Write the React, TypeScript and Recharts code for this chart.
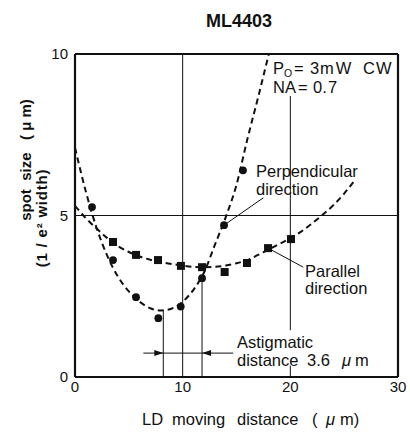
import React from "react";
import {
  ComposedChart,
  Line,
  Scatter,
  XAxis,
  YAxis,
  ReferenceLine,
} from "recharts";

// measured spot sizes (um) vs LD moving distance (um)
const perpPoints = [
  { x: 1.58, y: 5.26 },
  { x: 3.53, y: 3.62 },
  { x: 5.67, y: 2.47 },
  { x: 7.74, y: 1.82 },
  { x: 9.82, y: 2.18 },
  { x: 11.8, y: 3.06 },
  { x: 13.84, y: 4.7 },
  { x: 15.6, y: 6.4 },
];

const paraPoints = [
  { x: 3.53, y: 4.18 },
  { x: 5.67, y: 3.78 },
  { x: 7.71, y: 3.62 },
  { x: 9.84, y: 3.44 },
  { x: 11.8, y: 3.4 },
  { x: 13.9, y: 3.25 },
  { x: 15.97, y: 3.53 },
  { x: 17.93, y: 3.99 },
  { x: 20.06, y: 4.27 },
];

// dashed fitted curves
const perpCurve = [
  { x: 0, y: 7.1 }, { x: 1, y: 5.75 }, { x: 2, y: 4.62 }, { x: 3, y: 3.75 },
  { x: 4, y: 3.1 }, { x: 5, y: 2.65 }, { x: 6, y: 2.33 }, { x: 7, y: 2.13 },
  { x: 8, y: 2.06 }, { x: 9, y: 2.12 }, { x: 10, y: 2.33 }, { x: 11, y: 2.7 },
  { x: 12, y: 3.25 }, { x: 13, y: 4.1 }, { x: 14, y: 4.95 }, { x: 15, y: 5.95 },
  { x: 16, y: 7.35 }, { x: 17, y: 8.65 }, { x: 18, y: 10 },
];

const paraCurve = [
  { x: 0, y: 5.3 }, { x: 1, y: 4.92 }, { x: 2, y: 4.6 }, { x: 3, y: 4.3 },
  { x: 4, y: 4.05 }, { x: 5, y: 3.87 }, { x: 6, y: 3.73 }, { x: 7, y: 3.63 },
  { x: 8, y: 3.55 }, { x: 9, y: 3.5 }, { x: 10, y: 3.45 }, { x: 11, y: 3.41 },
  { x: 12, y: 3.4 }, { x: 13, y: 3.41 }, { x: 14, y: 3.45 }, { x: 15, y: 3.52 },
  { x: 16, y: 3.62 }, { x: 17, y: 3.78 }, { x: 18, y: 3.95 }, { x: 19, y: 4.12 },
  { x: 20, y: 4.3 }, { x: 21, y: 4.5 }, { x: 22, y: 4.75 }, { x: 23, y: 5.02 },
  { x: 24, y: 5.32 }, { x: 25, y: 5.68 }, { x: 26, y: 6.1 },
];

// astigmatic distance markers
const waistPerp = 8.2;
const waistPara = 11.8;
const arrowY = 0.74;
const arrowHeads = [
  { x: waistPerp, y: arrowY, dir: 1 },
  { x: waistPara, y: arrowY, dir: -1 },
];

const xTicks = [0, 10, 20, 30];
const yTicks = [0, 5, 10];

const INK = "#111";
const FONT = "'Liberation Sans', Arial, Helvetica, sans-serif";
const pre = { whiteSpace: "pre" as const };

const Dot = (p: any) => <circle cx={p.cx} cy={p.cy} r={3.9} fill={INK} />;
const Square = (p: any) => (
  <rect x={p.cx - 4} y={p.cy - 4} width={8} height={8} fill={INK} />
);
const Arrow = (p: any) => {
  const d = p.payload.dir;
  return (
    <path
      d={`M${p.cx},${p.cy} L${p.cx - d * 9},${p.cy - 3} L${p.cx - d * 9},${p.cy + 3} Z`}
      fill={INK}
    />
  );
};

export default function App() {
  return (
    <div style={{ position: "absolute", left: 0, top: 0, background: "#fff" }}>
      <ComposedChart
        width={410}
        height={435}
        margin={{ top: 54, right: 12, bottom: 28, left: 0 }}
        style={{ fontFamily: FONT }}
      >
        <XAxis
          type="number"
          dataKey="x"
          domain={[0, 30]}
          ticks={xTicks}
          allowDataOverflow
          axisLine={false}
          tickLine={false}
          tickSize={0}
          tickMargin={4}
          height={30}
          tick={{ fontSize: 15, fill: INK }}
        />
        <YAxis
          type="number"
          dataKey="y"
          domain={[0, 10]}
          ticks={yTicks}
          allowDataOverflow
          axisLine={false}
          tickLine={false}
          tickSize={0}
          tickMargin={7}
          width={75}
          tick={{ fontSize: 15, fill: INK }}
        />

        <ReferenceLine y={5} stroke={INK} strokeWidth={1} />
        <ReferenceLine x={10} stroke={INK} strokeWidth={1} />
        <ReferenceLine segment={[{ x: 20, y: 8.7 }, { x: 20, y: 1.45 }]} stroke={INK} strokeWidth={1} />
        <ReferenceLine segment={[{ x: 20, y: 0.35 }, { x: 20, y: 0 }]} stroke={INK} strokeWidth={1} />
        <ReferenceLine segment={[{ x: waistPerp, y: 0 }, { x: waistPerp, y: 2.06 }]} stroke={INK} strokeWidth={1} />
        <ReferenceLine segment={[{ x: waistPara, y: 0 }, { x: waistPara, y: 3.06 }]} stroke={INK} strokeWidth={1} />
        <ReferenceLine segment={[{ x: 6.35, y: arrowY }, { x: 14.7, y: arrowY }]} stroke={INK} strokeWidth={1} />
        <ReferenceLine segment={[{ x: 13.84, y: 4.7 }, { x: 17.5, y: 5.55 }]} stroke={INK} strokeWidth={1} />
        <ReferenceLine segment={[{ x: 17.93, y: 3.99 }, { x: 21.2, y: 3.4 }]} stroke={INK} strokeWidth={1} />

        <ReferenceLine x={0} stroke={INK} strokeWidth={2.2} />
        <ReferenceLine x={30} stroke={INK} strokeWidth={2.2} />
        <ReferenceLine y={0} stroke={INK} strokeWidth={2.2} />
        <ReferenceLine y={10} stroke={INK} strokeWidth={2.2} />

        <Line
          data={perpCurve}
          dataKey="y"
          type="monotone"
          stroke={INK}
          strokeWidth={2}
          strokeDasharray="6 4"
          dot={false}
          activeDot={false}
          isAnimationActive={false}
        />
        <Line
          data={paraCurve}
          dataKey="y"
          type="monotone"
          stroke={INK}
          strokeWidth={2}
          strokeDasharray="6 4"
          dot={false}
          activeDot={false}
          isAnimationActive={false}
        />
        <Scatter data={perpPoints} dataKey="y" shape={Dot} isAnimationActive={false} />
        <Scatter data={paraPoints} dataKey="y" shape={Square} isAnimationActive={false} />
        <Scatter data={arrowHeads} dataKey="y" shape={Arrow} isAnimationActive={false} />

        {/* annotations */}
        <text x={206} y={27} fontSize={18} fontWeight="bold" fill={INK} fontFamily={FONT}>
          ML4403
        </text>
        <text y={74} fontSize={16.5} fill={INK} fontFamily={FONT}>
          <tspan x={273}>P</tspan>
          <tspan fontSize={10.5} dy={3}>O</tspan>
          <tspan x={294} dy={-3}>=</tspan>
          <tspan x={310}>3</tspan>
          <tspan x={320} letterSpacing={2}>mW</tspan>
          <tspan x={363} letterSpacing={1}>CW</tspan>
        </text>
        <text y={93} fontSize={16.5} fill={INK} fontFamily={FONT}>
          <tspan x={273}>NA</tspan>
          <tspan x={298}>=</tspan>
          <tspan x={313}>0.</tspan>
          <tspan x={328}>7</tspan>
        </text>
        <text x={256} y={177} fontSize={16.5} fill={INK} fontFamily={FONT}>
          Perpendicular
        </text>
        <text x={256} y={195} fontSize={16.5} fill={INK} fontFamily={FONT}>
          direction
        </text>
        <text x={305} y={277} fontSize={16.5} fill={INK} fontFamily={FONT}>
          Parallel
        </text>
        <text x={305} y={294} fontSize={16.5} fill={INK} fontFamily={FONT}>
          direction
        </text>
        <text x={237} y={348} fontSize={16.5} fill={INK} fontFamily={FONT}>
          Astigmatic
        </text>
        <text y={366} fontSize={16.5} fill={INK} fontFamily={FONT}>
          <tspan x={237}>distance</tspan>
          <tspan x={307}>3.6</tspan>
          <tspan x={342} fontStyle="italic">μ</tspan>
          <tspan x={355}>m</tspan>
        </text>
        <text y={425} fontSize={16.5} fill={INK} fontFamily={FONT}>
          <tspan x={142}>LD</tspan>
          <tspan x={172}>moving</tspan>
          <tspan x={237}>distance</tspan>
          <tspan x={312}>(</tspan>
          <tspan x={326} fontStyle="italic">μ</tspan>
          <tspan x={340}>m)</tspan>
        </text>
        <text
          x={25}
          y={160}
          fontSize={15}
          fontWeight="bold"
          textAnchor="middle"
          dominantBaseline="central"
          transform="rotate(-90 25 160)"
          fill={INK}
          fontFamily={FONT}
          style={pre}
        >
          {"spot  size   ( μ m)"}
        </text>
        <text
          x={41}
          y={218}
          fontSize={15}
          fontWeight="bold"
          textAnchor="middle"
          dominantBaseline="central"
          transform="rotate(-90 41 218)"
          fill={INK}
          fontFamily={FONT}
          letterSpacing={0.8}
          style={pre}
        >
          {"(1 / e² width)"}
        </text>
      </ComposedChart>
    </div>
  );
}
